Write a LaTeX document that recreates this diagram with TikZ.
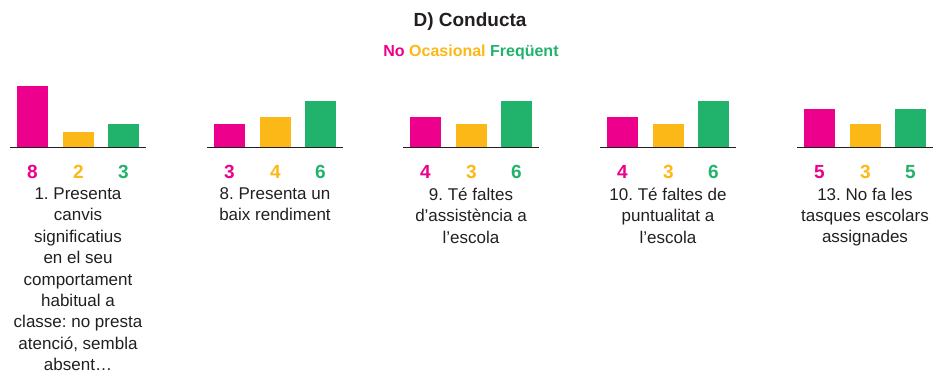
\documentclass[tikz,border=0pt]{standalone}
\usepackage{fontspec}
\setmainfont{Liberation Sans}
\definecolor{cpink}{HTML}{EC008C}
\definecolor{corange}{HTML}{FBB817}
\definecolor{cgreen}{HTML}{21B36B}
\definecolor{ctext}{HTML}{231F20}
\frenchspacing
\begin{document}
\begin{tikzpicture}[x=1pt,y=-1pt,
  numlab/.style={font=\fontsize{19}{22}\selectfont\bfseries, inner sep=0pt},
  desc/.style={font=\fontsize{17}{21.4}\selectfont, text=ctext, align=center, anchor=north, inner sep=0pt},
  axisline/.style={draw=ctext, line width=1pt}]
\useasboundingbox (0,0) rectangle (934,373);
\node[font=\fontsize{19}{22}\selectfont\bfseries, text=ctext] (title) at (470,22) {D) Conducta};
\node[font=\fontsize{16}{19}\selectfont\bfseries] (legend) at (471,52)
  {\textcolor{cpink}{No} \textcolor{corange}{Ocasional} \textcolor{cgreen}{Freqüent}};
\foreach \i/\xo/\a/\b/\c/\lab in {
  1/10/8/2/3/{1. Presenta\\canvis\\significatius\\en el seu\\comportament\\habitual a\\classe: no presta\\atenció, sembla\\absent…},
  2/207/3/4/6/{8. Presenta un\\baix rendiment},
  3/403/4/3/6/{9. Té faltes\\d’assistència a\\l’escola},
  4/600/4/3/6/{10. Té faltes de\\puntualitat a\\l’escola},
  5/797/5/3/5/{13. No fa les\\tasques escolars\\assignades}} {
  \fill[cpink] (\xo+7,147) rectangle (\xo+38,147-7.6*\a);
  \fill[corange] (\xo+53,147) rectangle (\xo+84,147-7.6*\b);
  \fill[cgreen] (\xo+98,147) rectangle (\xo+129,147-7.6*\c);
  \coordinate (axl\i) at (\xo,147);
  \coordinate (axr\i) at (\xo+136,147);
  \draw[axisline] (axl\i) -- (axr\i);
  \node[numlab, text=cpink] (na\i) at (\xo+22.5,172) {\a};
  \node[numlab, text=corange] (nb\i) at (\xo+68.5,172) {\b};
  \node[numlab, text=cgreen] (nc\i) at (\xo+113.5,172) {\c};
  \node[desc] (lab\i) at (\xo+68,187.5) {\lab};
}
\end{tikzpicture}
\end{document}
